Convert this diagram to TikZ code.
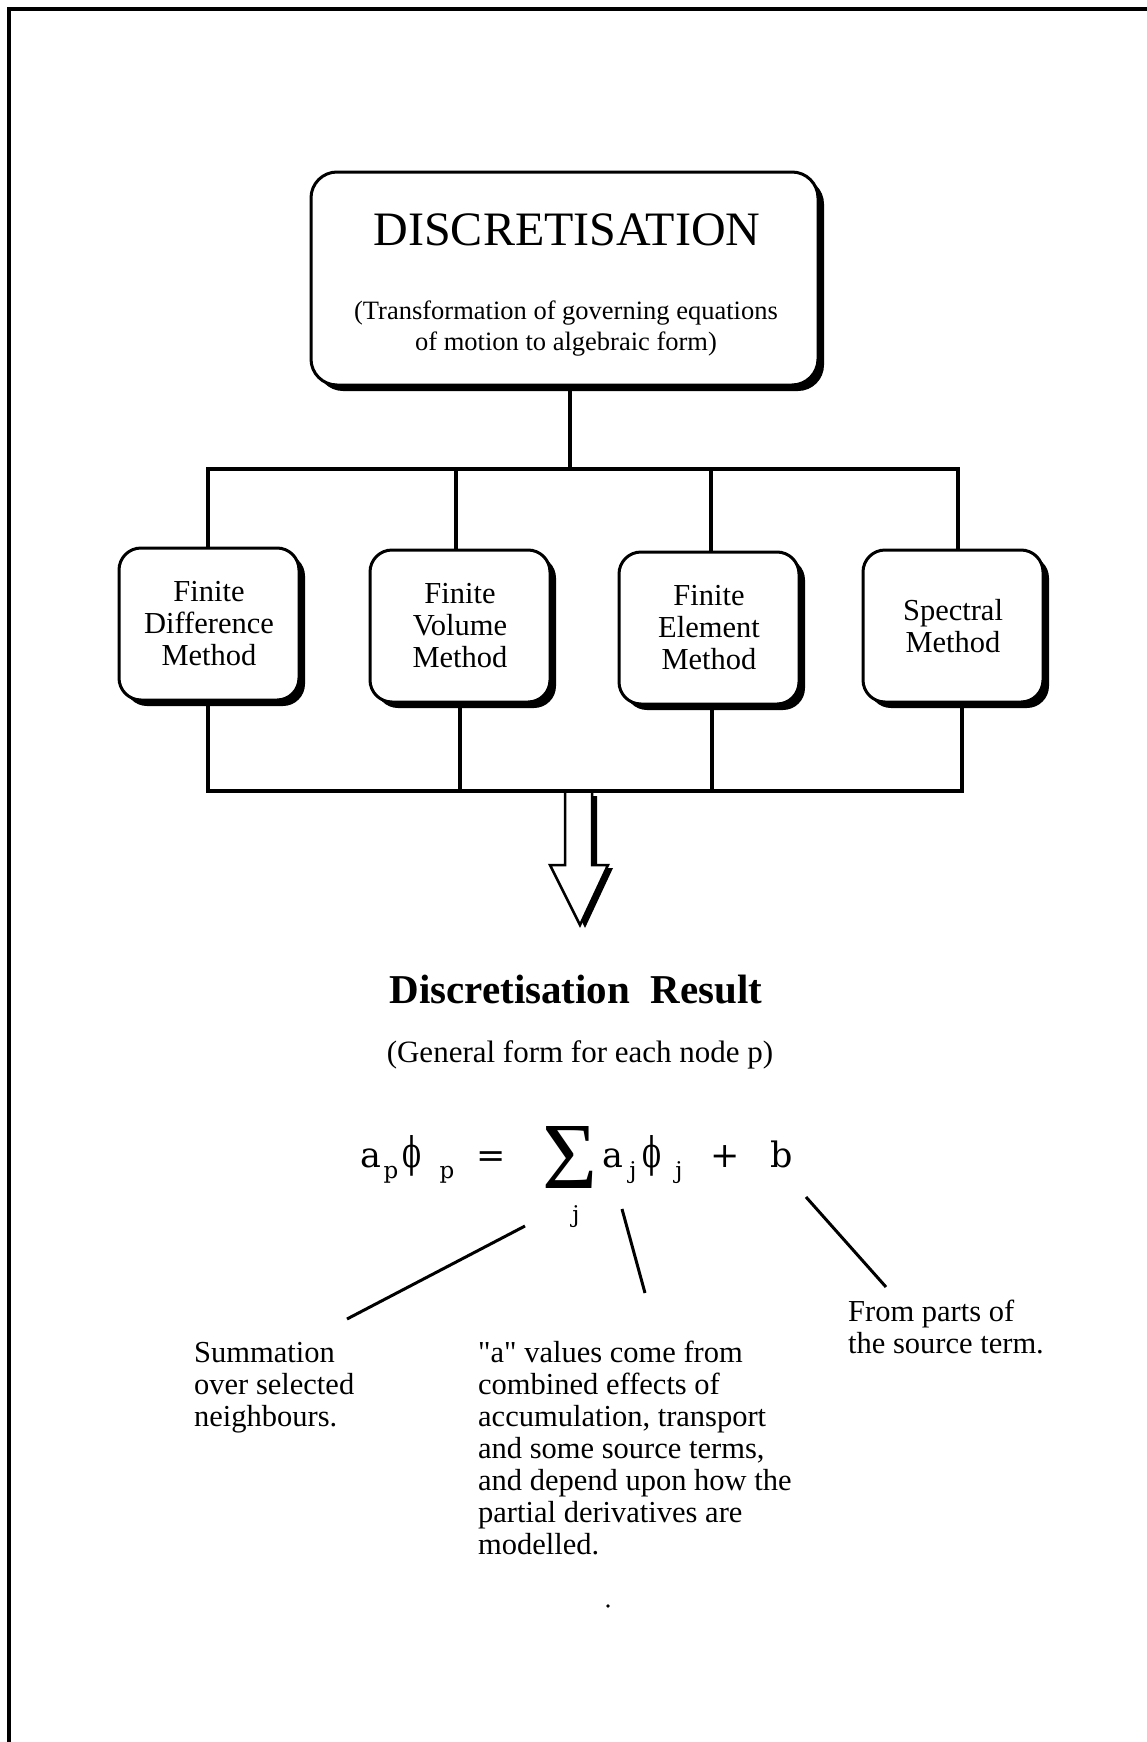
\documentclass[tikz,border=0pt]{standalone}
\usepackage{fontspec}
\setmainfont{Liberation Serif}
\newfontfamily\eqfont{DejaVu Serif}
\usepackage{graphicx}
\usetikzlibrary{shadows}
\begin{document}
\begin{tikzpicture}[x=1pt,y=-1pt,
  frame/.style={line width=4pt},
  wire/.style={line width=3.5pt, line join=miter},
  leader/.style={line width=3pt},
  shadowbox/.style={draw, line width=3pt, fill=white, rounded corners=#1,
    general shadow={fill=black, shadow xshift=6pt, shadow yshift=-6pt}},
  method/.style={shadowbox=22pt, minimum width=180pt, minimum height=152pt,
    align=center, inner sep=0pt, font=\fontsize{30.5}{32}\selectfont},
  note/.style={anchor=base west, inner sep=0pt, font=\fontsize{30.5}{32}\selectfont},
  eq/.style={anchor=base, inner sep=0pt, font=\eqfont\fontsize{35}{40}\selectfont},
  sub/.style={anchor=base, inner sep=0pt, font=\eqfont\fontsize{23}{26}\selectfont},
  phisym/.style={inner sep=0pt},
]
\useasboundingbox (0,0) rectangle (1147,1742);

% page frame (top and left edges only)
\draw[frame] (9,1742) -- (9,9.5) -- (1147,9.5);

% main box
\node[shadowbox=26pt, minimum width=507pt, minimum height=213pt] (disc) at (564.5,278.5) {};
\node[anchor=base, inner sep=0pt, font=\fontsize{48}{50}\selectfont] (title) at (567,245) {DISCRETISATION};
\node[anchor=base, inner sep=0pt, font=\fontsize{26.5}{31}\selectfont] (subA) at (566,319) {(Transformation of governing equations};
\node[anchor=base, inner sep=0pt, font=\fontsize{26.5}{31}\selectfont] (subB) at (566,350) {of motion to algebraic form)};

% method boxes
\node[method] (fdm)  at (209,624) {Finite\\Difference\\Method};
\node[method] (fvm)  at (460,626) {Finite\\Volume\\Method};
\node[method] (fem)  at (709,628) {Finite\\Element\\Method};
\node[method] (spec) at (953,626) {Spectral\\Method};

% upper distribution bus
\coordinate (t0) at (570,469);
\coordinate (t1) at (208,469);
\coordinate (t2) at (456,469);
\coordinate (t3) at (711,469);
\coordinate (t4) at (958,469);
\draw[wire] ([xshift=5.5pt]disc.south) -- (t0);
\draw[wire] (t1 |- fdm.north) -- (t1) -- (t4) -- (t4 |- spec.north);
\draw[wire] (t2) -- (t2 |- fvm.north);
\draw[wire] (t3) -- (t3 |- fem.north);

% lower collecting bus
\coordinate (b1) at (208,791);
\coordinate (b2) at (460,791);
\coordinate (b3) at (712,791);
\coordinate (b4) at (962,791);
\draw[wire] (b1 |- fdm.south) -- (b1) -- (b4) -- (b4 |- spec.south);
\draw[wire] (b2 |- fvm.south) -- (b2);
\draw[wire] (b3 |- fem.south) -- (b3);

% hollow arrow with shadow
\fill[black, shift={(5,3)}] (565,793) -- (565,865) -- (550,865) -- (580,925) -- (608,865) -- (592,865) -- (592,793) -- cycle;
\draw[line width=2.5pt, fill=white, line join=miter] (565,793) -- (565,865) -- (550,865) -- (580,925) -- (608,865) -- (592,865) -- (592,793);

% result heading
\node[anchor=base, inner sep=0pt, font=\bfseries\fontsize{41}{44}\selectfont] (res) at (576,1003) {Discretisation\ \ Result};
\node[anchor=base, inner sep=0pt, font=\fontsize{31}{34}\selectfont] (gen) at (580,1062) {(General form for each node p)};

% equation
\node[eq] (ap)   at (371,1167) {a};
\node[sub] (aps) at (391,1178) {p};
\node[phisym] (php) at (412,1156) {\resizebox{19pt}{32pt}{\eqfont ϕ}};
\node[sub] (phs) at (447,1178) {p};
\node[eq] (equ)  at (491,1167) {=};
\node[inner sep=0pt] (sig) at (569.5,1157) {\resizebox{55pt}{62pt}{Σ}};
\node[sub] (sigj) at (576,1222) {j};
\node[eq] (aj)   at (613,1167) {a};
\node[sub] (ajs) at (633,1178) {j};
\node[phisym] (phj) at (652,1156) {\resizebox{19pt}{32pt}{\eqfont ϕ}};
\node[sub] (phjs) at (679,1178) {j};
\node[eq] (plus) at (725,1167) {+};
\node[eq] (bb)   at (782,1167) {b};

% explanatory notes
\node[note] (nsum) at (194,1362) {\vtop{\hbox{Summation}\hbox{over selected}\hbox{neighbours.}}};
\node[note] (nval) at (478,1362) {\vtop{\hbox{\textquotedbl a\textquotedbl{} values come from}\hbox{combined effects of}\hbox{accumulation, transport}\hbox{and some source terms,}\hbox{and depend upon how the}\hbox{partial derivatives are}\hbox{modelled.}}};
\node[note] (nsrc) at (848,1321) {\vtop{\hbox{From parts of}\hbox{the source term.}}};

% leader lines
\coordinate (l1a) at (525,1226); \coordinate (l1b) at (347,1319);
\coordinate (l2a) at (622,1209); \coordinate (l2b) at (645,1293);
\coordinate (l3a) at (806,1197); \coordinate (l3b) at (886,1287);
\draw[leader] (l1a) -- (l1b);
\draw[leader] (l2a) -- (l2b);
\draw[leader] (l3a) -- (l3b);

% stray mark
\fill (608,1606) circle (1.8pt);
\end{tikzpicture}
\end{document}
